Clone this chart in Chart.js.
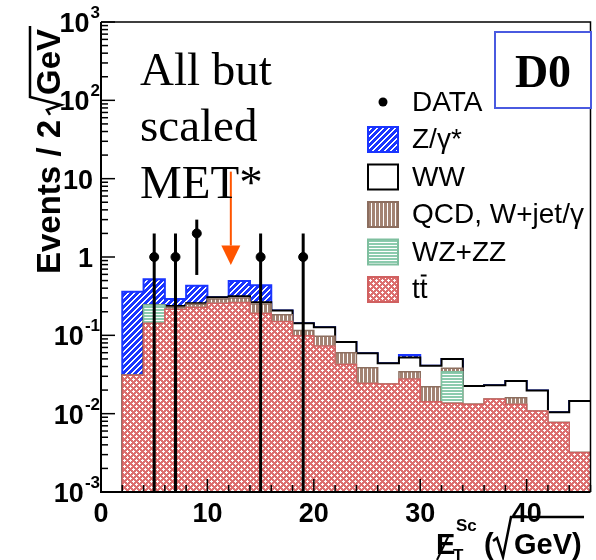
<!DOCTYPE html>
<html>
<head>
<meta charset="utf-8">
<script src="https://cdn.jsdelivr.net/npm/chart.js@4.4.0/dist/chart.umd.min.js"></script>
<style>
  html, body { margin: 0; padding: 0; background: #fff; }
  #wrap { width: 596px; height: 560px; }
</style>
</head>
<body>
<div id="wrap"><canvas id="metChart" width="596" height="560"></canvas></div>
<script>
// bins of 2 sqrt(GeV), low edges
const binLow = [2, 4, 6, 8, 10, 12, 14, 16, 18, 20, 22, 24, 26, 28, 30, 32, 34, 36, 38, 40, 42, 44];
const binWidth = 2;

// contributions per bin (events / 2 sqrt(GeV)), bottom of the stack first
const ttbar  = [0.031, 0.143, 0.215, 0.229, 0.257, 0.262, 0.191, 0.150, 0.099, 0.073, 0.0428, 0.0244, 0.024, 0.0278, 0.0142, 0.0136, 0.0132, 0.0154, 0.0132, 0.0108, 0.0077, 0.0032];
const wzzz   = [0, 0.101, 0, 0, 0, 0, 0, 0, 0, 0, 0, 0, 0, 0, 0, 0.0208, 0, 0, 0, 0, 0, 0];
const qcd    = [0, 0, 0.013, 0.021, 0.033, 0.038, 0.061, 0.033, 0.016, 0.024, 0.0172, 0.0143, 0, 0.0066, 0.0079, 0.0036, 0, 0, 0.0028, 0, 0, 0];
const ww     = [0, 0, 0.009, 0.007, 0.017, 0.015, 0.013, 0.024, 0.028, 0.030, 0.022, 0.0203, 0.020, 0.0176, 0.0189, 0.012, 0.0094, 0.0076, 0.0102, 0.0089, 0.0027, 0.0113];
const zgamma = [0.329, 0.276, 0.055, 0.174, 0, 0.18, 0.171, 0, 0, 0, 0, 0, 0, 0.004, 0, 0, 0, 0, 0, 0, 0, 0];

// data points with error bars
const dataX  = [5, 7, 9, 15, 19];
const dataY  = [1, 1, 2, 1, 1];
const dataLo = [0, 0, 0.59, 0, 0];
const dataHi = [2, 2, 3.0, 2, 2];

const seriesNames = ['DATA', 'Z/\u03b3*', 'WW', 'QCD, W+jet/\u03b3', 'WZ+ZZ', 'tt'];
const xTickLabels = [0, 10, 20, 30, 40];
const Y_MIN = 1e-3, Y_MAX = 1e3, X_MIN = 0, X_MAX = 46;

// cut arrow (data coordinates)
const cutX = 12.2, cutTop = 12.3, cutHead = 1.4, cutTip = 0.79;

const SANS = '"Liberation Sans", Arial, Helvetica, sans-serif';
const SERIF = '"Liberation Serif", "Times New Roman", serif';

function tile(w, h, bg, fg, isFg) {
    const c = document.createElement('canvas');
    c.width = w; c.height = h;
    const g = c.getContext('2d');
    g.fillStyle = bg;
    g.fillRect(0, 0, w, h);
    g.fillStyle = fg;
    for (let i = 0; i < w; i++) {
        for (let j = 0; j < h; j++) {
            if (isFg(i, j)) g.fillRect(i, j, 1, 1);
        }
    }
    return g.createPattern(c, 'repeat');
}
function plus(i, j, cx, cy) {
    return (i == cx && Math.abs(j - cy) <= 1) || (j == cy && Math.abs(i - cx) <= 1);
}

const redFill   = tile(6, 6, '#dc6f6f', '#ffffff', (i, j) => plus(i, j, 1, 1) || plus(i, j, 4, 4));
const blueFill  = tile(6, 6, '#1a35ff', '#ffffff', (i, j) => (i + j) % 6 < 2);
const brownFill = tile(4, 1, '#a38373', '#ffffff', (i) => i == 3);
const greenFill = tile(1, 3, '#8ccbae', '#ffffff', (i, j) => j == 2);

const styles = {
    z:   { fill: blueFill,  line: '#1a35ff', width: 2 },
    ww:  { fill: '#ffffff', line: '#000000', width: 2 },
    qcd: { fill: brownFill, line: '#8c6e5f', width: 1.5 },
    wz:  { fill: greenFill, line: '#7fbf9f', width: 1.5 },
    tt:  { fill: redFill,   line: '#d06060', width: 1.5 }
};

// cumulative stack
function addUp(a, b) { return a.map((v, i) => v + b[i]); }
const cumTt  = ttbar.slice();
const cumWz  = addUp(cumTt, wzzz);
const cumQcd = addUp(cumWz, qcd);
const cumWw  = addUp(cumQcd, ww);
const cumZ   = addUp(cumWw, zgamma);

function layer(label, cum, st) {
    const pts = [{x: binLow[0] - binWidth, y: Y_MIN}];
    binLow.forEach((lo, i) => pts.push({x: lo, y: cum[i]}));
    pts.push({x: binLow[binLow.length - 1] + binWidth, y: cum[cum.length - 1]});
    return {
        label: label,
        data: pts,
        stepped: true,
        fill: 'start',
        backgroundColor: st.fill,
        borderColor: st.line,
        borderWidth: st.width,
        borderJoinStyle: 'miter',
        pointRadius: 0
    };
}

const overlay = {
    id: 'overlay',
    afterDatasetsDraw(chart) {
        const {ctx, scales: {x, y}} = chart;
        ctx.save();
        ctx.strokeStyle = '#000';
        ctx.lineWidth = 3;
        dataX.forEach((xv, i) => {
            const px = x.getPixelForValue(xv);
            ctx.beginPath();
            ctx.moveTo(px, y.getPixelForValue(Math.max(dataLo[i], Y_MIN)));
            ctx.lineTo(px, y.getPixelForValue(dataHi[i]));
            ctx.stroke();
        });
        // arrow
        const ax = x.getPixelForValue(cutX);
        const headY = y.getPixelForValue(cutHead);
        ctx.strokeStyle = '#ff5500';
        ctx.fillStyle = '#ff5500';
        ctx.lineWidth = 2;
        ctx.beginPath();
        ctx.moveTo(ax, y.getPixelForValue(cutTop));
        ctx.lineTo(ax, headY);
        ctx.stroke();
        ctx.beginPath();
        ctx.moveTo(ax - 9.5, headY);
        ctx.lineTo(ax + 9.5, headY);
        ctx.lineTo(ax, y.getPixelForValue(cutTip));
        ctx.closePath();
        ctx.fill();
        ctx.restore();
    },
    afterDraw(chart) {
        const {ctx, chartArea: a, scales: {x, y}} = chart;
        ctx.save();
        ctx.strokeStyle = '#000';
        ctx.fillStyle = '#000';

        // frame
        ctx.lineWidth = 1.5;
        ctx.beginPath();
        ctx.moveTo(a.left, a.top);
        ctx.lineTo(a.right, a.top);
        ctx.lineTo(a.right, a.bottom);
        ctx.stroke();
        ctx.lineWidth = 2;
        ctx.beginPath();
        ctx.moveTo(a.left, a.top);
        ctx.lineTo(a.left, a.bottom);
        ctx.lineTo(a.right, a.bottom);
        ctx.stroke();

        // y ticks (inside)
        ctx.lineWidth = 1.5;
        const e0 = Math.round(Math.log10(y.min)), e1 = Math.round(Math.log10(y.max));
        for (let e = e0; e <= e1; e++) {
            const v = Math.pow(10, e);
            let py = y.getPixelForValue(v);
            ctx.beginPath(); ctx.moveTo(a.left, py); ctx.lineTo(a.left + 14, py); ctx.stroke();
            if (e < e1) {
                for (let m = 2; m <= 9; m++) {
                    py = y.getPixelForValue(m * v);
                    ctx.beginPath(); ctx.moveTo(a.left, py); ctx.lineTo(a.left + 7, py); ctx.stroke();
                }
            }
        }
        // x ticks (inside)
        for (let v = x.min; v <= x.max; v += binWidth) {
            const px = x.getPixelForValue(v);
            const len = v % 10 == 0 ? 13 : 7;
            ctx.beginPath(); ctx.moveTo(px, a.bottom); ctx.lineTo(px, a.bottom - len); ctx.stroke();
        }

        // y labels
        for (let e = e0; e <= e1; e++) {
            const py = y.getPixelForValue(Math.pow(10, e));
            ctx.textBaseline = 'alphabetic';
            if (e == 0 || e == 1) {
                ctx.font = 'bold 27px ' + SANS;
                ctx.textAlign = 'right';
                ctx.fillText(e == 0 ? '1' : '10', 93, py + 10);
            } else {
                ctx.font = 'bold 17px ' + SANS;
                ctx.textAlign = 'right';
                const sup = String(e);
                ctx.fillText(sup, 100, py - 4);
                const sw = ctx.measureText(sup).width;
                ctx.font = 'bold 27px ' + SANS;
                ctx.fillText('10', 100 - sw - 1, py + 10);
            }
        }
        // x labels
        ctx.font = 'bold 27px ' + SANS;
        ctx.textAlign = 'center';
        xTickLabels.forEach(v => {
            ctx.fillText(String(v), x.getPixelForValue(v), a.bottom + 30);
        });

        // x title
        ctx.textAlign = 'left';
        ctx.font = 'bold 29px ' + SANS;
        ctx.fillText('E', 436, 554);
        ctx.lineWidth = 2;
        ctx.beginPath(); ctx.moveTo(437, 560); ctx.lineTo(449, 535); ctx.stroke();
        ctx.font = 'bold 17px ' + SANS;
        ctx.fillText('T', 453, 561);
        ctx.fillText('Sc', 456, 531);
        ctx.font = 'bold 29px ' + SANS;
        ctx.fillText('(', 484, 554);
        const gx = 514;
        ctx.fillText('GeV)', gx, 554);
        const gw = ctx.measureText('GeV').width;
        ctx.lineWidth = 2.5;
        ctx.beginPath();
        ctx.moveTo(493, 541); ctx.lineTo(497, 538); ctx.lineTo(503, 557);
        ctx.lineTo(511, 517); ctx.lineTo(gx + gw + 12, 517);
        ctx.stroke();

        // y title
        ctx.save();
        ctx.translate(60, 274);
        ctx.rotate(-Math.PI / 2);
        ctx.font = 'bold 33px ' + SANS;
        ctx.textAlign = 'left';
        const t1 = 'Events / 2';
        ctx.fillText(t1, 0, 0);
        const w1 = ctx.measureText(t1).width;
        const gu = w1 + 25;
        ctx.fillText('GeV', gu, 0);
        const wg = ctx.measureText('GeV').width;
        ctx.lineWidth = 2.5;
        ctx.beginPath();
        ctx.moveTo(w1 + 5, -10); ctx.lineTo(w1 + 10, -13); ctx.lineTo(w1 + 15, 1);
        ctx.lineTo(w1 + 23, -30); ctx.lineTo(gu + wg + 3, -30);
        ctx.stroke();
        ctx.restore();

        // cut text
        ctx.font = '47px ' + SERIF;
        ctx.textAlign = 'left';
        ctx.fillText('All but', 140, 85);
        ctx.fillText('scaled', 140, 141);
        ctx.fillText('MET*', 140, 198);

        // D0 box
        ctx.fillStyle = '#fff';
        ctx.fillRect(495, 32, 96, 76);
        ctx.strokeStyle = '#4a5ae0';
        ctx.lineWidth = 2;
        ctx.strokeRect(495, 32, 96, 76);
        ctx.fillStyle = '#000';
        ctx.font = 'bold 46px ' + SERIF;
        ctx.textAlign = 'center';
        ctx.fillText('D0', 543, 87);

        // legend
        const rowY = 102, rowStep = 37.5, boxX = 368, boxW = 30, boxH = 25, textX = 412;
        const legStyles = [null, styles.z, styles.ww, styles.qcd, styles.wz, styles.tt];
        ctx.textAlign = 'left';
        ctx.textBaseline = 'middle';
        seriesNames.forEach((name, i) => {
            const cy = rowY + i * rowStep;
            const st = legStyles[i];
            if (!st) {
                ctx.fillStyle = '#000';
                ctx.beginPath();
                ctx.arc(boxX + boxW / 2, cy, 4.5, 0, Math.PI * 2);
                ctx.fill();
            } else {
                ctx.fillStyle = st.fill;
                ctx.fillRect(boxX, cy - boxH / 2, boxW, boxH);
                ctx.strokeStyle = st.line;
                ctx.lineWidth = 2;
                ctx.strokeRect(boxX, cy - boxH / 2, boxW, boxH);
            }
            ctx.fillStyle = '#000';
            ctx.font = '28px ' + SANS;
            ctx.fillText(name, textX, cy + 1);
            if (name == 'tt') {
                const wt = ctx.measureText('t').width;
                ctx.strokeStyle = '#000';
                ctx.lineWidth = 2;
                ctx.beginPath();
                ctx.moveTo(textX + wt + 1, cy - 14);
                ctx.lineTo(textX + 2 * wt - 1, cy - 14);
                ctx.stroke();
            }
        });
        ctx.restore();
    }
};

new Chart(document.getElementById('metChart'), {
    type: 'line',
    data: {
        datasets: [
            {
                label: seriesNames[0],
                data: dataX.map((xv, i) => ({x: xv, y: dataY[i]})),
                showLine: false,
                pointRadius: 4.5,
                pointBackgroundColor: '#000',
                pointBorderColor: '#000',
                fill: false
            },
            layer('tt', cumTt, styles.tt),
            layer('WZ+ZZ', cumWz, styles.wz),
            layer('QCD, W+jet/gamma', cumQcd, styles.qcd),
            layer('WW', cumWw, styles.ww),
            layer('Z/gamma*', cumZ, styles.z)
        ]
    },
    options: {
        responsive: false,
        animation: false,
        layout: { padding: { left: 101, top: 22, right: 4, bottom: 68 } },
        scales: {
            x: { type: 'linear', min: X_MIN, max: X_MAX, display: false },
            y: { type: 'logarithmic', min: Y_MIN, max: Y_MAX, display: false }
        },
        elements: { line: { tension: 0 } },
        plugins: {
            legend: { display: false },
            tooltip: { enabled: false }
        }
    },
    plugins: [overlay]
});
</script>
</body>
</html>
